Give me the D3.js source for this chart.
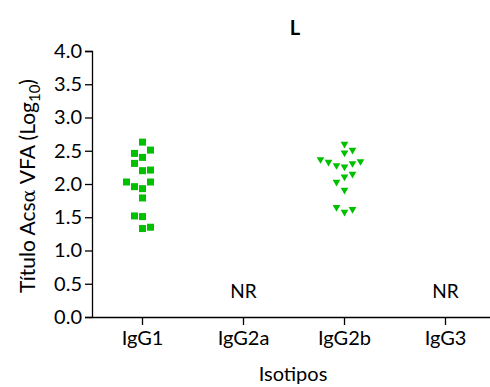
<!DOCTYPE html>
<html>
<head>
<meta charset="utf-8">
<script src="https://cdn.jsdelivr.net/npm/d3@7"></script>
<style>
body { margin: 0; background: #fff; }
text { font-family: Lato, "Open Sans", sans-serif; fill: #000; }
</style>
</head>
<body>
<svg id="chart" width="490" height="387"></svg>
<script>
// categories and tick labels
var isotipos = ["IgG1", "IgG2a", "IgG2b", "IgG3"];
var yTicks = [0, 0.5, 1, 1.5, 2, 2.5, 3, 3.5, 4];
var nrCats = ["IgG2a", "IgG3"];

// IgG1 titres (log10) and the jitter column of each point
var igg1Values = [2.63, 2.51, 2.46, 2.40, 2.31, 2.20, 2.21, 2.03, 2.03, 1.96, 1.93, 1.79, 1.52, 1.51, 1.33, 1.35];
var igg1Col    = [0, 1, -1, 0, -1, 0, 1, -2, 1, -1, 0, 0, -1, 0, 0, 1];

// IgG2b titres (log10) and jitter column
var igg2bValues = [2.60, 2.51, 2.47, 2.37, 2.33, 2.34, 2.31, 2.28, 2.26, 2.15, 2.11, 2.03, 1.91, 1.65, 1.58, 1.62];
var igg2bCol    = [0, 1, 0, -3, -2, 2, 1, -1, 0, 1, 0, -1, 0, -1, 0, 1];

var svg = d3.select("#chart");
var mLeft = 92, mRight = 496, mTop = 51, mBottom = 317;
var green = "#00c000";

var x = d3.scaleBand().domain(isotipos).range([mLeft, mRight]);
var y = d3.scaleLinear().domain([0, 4]).range([mBottom, mTop]);
var colW = 8;

var g = svg.append("g");

// y axis
var yAxis = g.append("g")
    .attr("transform", "translate(" + mLeft + ",0)")
    .call(d3.axisLeft(y).tickValues(yTicks).tickFormat(d3.format(".1f")).tickSize(7).tickPadding(3));
yAxis.selectAll("text").style("font-size", "20px");

// x axis
var xAxis = g.append("g")
    .attr("transform", "translate(0," + mBottom + ")")
    .call(d3.axisBottom(x).tickSize(8).tickPadding(6).tickSizeOuter(0));
xAxis.selectAll("text").style("font-size", "20px");
g.selectAll(".domain").attr("stroke", "#000").attr("stroke-width", 1.3);
g.selectAll(".tick line").attr("stroke", "#000").attr("stroke-width", 1.3);

// IgG1 squares
var cx1 = x("IgG1") + x.bandwidth() / 2;
g.selectAll("rect.igg1").data(igg1Values).enter()
    .append("rect").attr("class", "igg1")
    .attr("x", function (d, i) { return cx1 + igg1Col[i] * colW - 3.5; })
    .attr("y", function (d) { return y(d) - 3.5; })
    .attr("width", 7).attr("height", 7)
    .style("fill", green);

// IgG2b down triangles
var cx2 = x("IgG2b") + x.bandwidth() / 2;
var tri = d3.symbol().type(d3.symbolTriangle).size(26);
g.selectAll("path.igg2b").data(igg2bValues).enter()
    .append("path").attr("class", "igg2b")
    .attr("d", tri)
    .attr("transform", function (d, i) {
        return "translate(" + (cx2 + igg2bCol[i] * colW) + "," + y(d) + ") rotate(180)";
    })
    .style("fill", green);

// NR labels
g.selectAll("text.nr").data(nrCats).enter()
    .append("text").attr("class", "nr")
    .attr("x", function (d) { return x(d) + x.bandwidth() / 2; })
    .attr("y", 298)
    .attr("text-anchor", "middle")
    .style("font-size", "19px")
    .text("NR");

// title
svg.append("text")
    .attr("x", 295).attr("y", 35)
    .attr("text-anchor", "middle")
    .style("font-size", "20px").style("font-weight", "bold")
    .text("L");

// x title
svg.append("text")
    .attr("x", 293).attr("y", 381)
    .attr("text-anchor", "middle")
    .style("font-size", "20px")
    .text("Isotipos");

// y title
var yt = svg.append("text")
    .attr("transform", "translate(35,186) rotate(-90)")
    .attr("text-anchor", "middle")
    .style("font-size", "21px");
yt.append("tspan").text("Título Acs");
yt.append("tspan").style("font-family", "'DejaVu Serif', serif").style("font-size", "19px").text("α");
yt.append("tspan").text(" VFA (Log");
yt.append("tspan").attr("dy", 5).style("font-size", "15px").text("10");
yt.append("tspan").attr("dy", -5).text(")");
</script>
</body>
</html>
